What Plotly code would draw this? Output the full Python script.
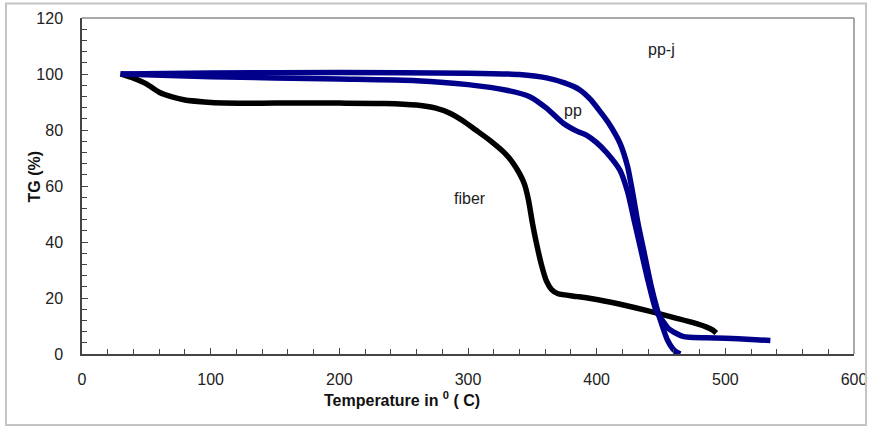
import plotly.graph_objects as go

# ---- data ----
fiber_T = [30, 40, 50, 60, 70, 80, 95, 110, 150, 200, 235, 260, 275, 286, 296, 306,
           317, 328, 335, 340, 344, 347, 350, 353, 357, 361, 365, 370, 385, 402,
           420, 440, 460, 475, 485, 490, 493]
fiber_TG = [100, 98.5, 96.5, 93.5, 91.8, 90.7, 90, 89.6, 89.6, 89.6, 89.5, 88.9, 87.8,
            86, 83.3, 80, 76.3, 72, 68.2, 64.5, 60.5, 55, 47, 40, 32, 26, 23,
            21.5, 20.5, 19.3, 17.6, 15.4, 13, 11.2, 9.7, 8.6, 7.5]

ppj_T = [30, 100, 200, 300, 340, 361, 375, 387, 395, 402, 410, 418, 424, 428, 432,
         437, 442, 447, 451, 455, 459, 462, 465]
ppj_TG = [100, 100.4, 100.5, 100.3, 99.8, 98.6, 96.8, 94.3, 91, 87, 82, 75.4, 67,
          57.5, 47, 36, 25, 16, 10, 5, 2, 0.7, 0]

pp_T = [30, 100, 200, 260, 300, 330, 348, 361, 374, 385, 392, 400, 408, 418, 424,
        429, 434, 440, 446, 451, 456, 462, 467, 472, 485, 500, 520, 535]
pp_TG = [100, 99, 98.2, 97.6, 96.2, 94.2, 91.9, 87.8, 82.4, 79.5, 78.2, 75.5, 71.8,
         65.7, 58, 48, 38, 26, 15.7, 12, 9, 7.3, 6.3, 6, 5.8, 5.6, 5.2, 4.8]

series_labels = ["fiber", "pp", "pp-j"]
label_pos = {"fiber": (301.6, 55.4), "pp": (381.5, 87.1), "pp-j": (450.5, 108.6)}

x_title = "Temperature in <sup>0</sup> ( C)"
y_title = "TG (%)"

BLUE = "#00008B"

fig = go.Figure()
fig.add_trace(go.Scatter(x=fiber_T, y=fiber_TG, mode="lines", name="fiber",
                         line=dict(color="#000000", width=5.5, shape="spline", smoothing=0.6)))
fig.add_trace(go.Scatter(x=pp_T, y=pp_TG, mode="lines", name="pp",
                         line=dict(color=BLUE, width=5.5, shape="spline", smoothing=0.6)))
fig.add_trace(go.Scatter(x=ppj_T, y=ppj_TG, mode="lines", name="pp-j",
                         line=dict(color=BLUE, width=5.5, shape="spline", smoothing=0.6)))

for name in series_labels:
    x, y = label_pos[name]
    fig.add_annotation(x=x, y=y, xref="x", yref="y", text=name, showarrow=False,
                       font=dict(family="Liberation Sans, Arial", size=16, color="#222"))

# plot area on screen: x 82..854, y 18..354
fig.add_annotation(x=(322 - 82) / 772, y=(354 - 411) / 336, xref="paper", yref="paper",
                   text="<b>" + x_title + "</b>", showarrow=False,
                   font=dict(family="Liberation Sans, Arial", size=16, color="#111"))
fig.add_annotation(x=(23 - 82) / 772, y=(354 - 177) / 336, xref="paper", yref="paper",
                   text="<b>" + y_title + "</b>", showarrow=False, textangle=-90,
                   font=dict(family="Liberation Sans, Arial", size=16, color="#111"))

# plot frame (top/right) and outer border
fig.add_shape(type="line", xref="paper", yref="paper", x0=0, x1=1, y0=1, y1=1,
              line=dict(color="#8c8c8c", width=1.5))
fig.add_shape(type="line", xref="paper", yref="paper", x0=1, x1=1, y0=0, y1=1,
              line=dict(color="#8c8c8c", width=1.5))
fig.add_shape(type="rect", xref="paper", yref="paper",
              x0=(6 - 82) / 772, x1=(866 - 82) / 772,
              y0=(354 - 425) / 336, y1=(354 - 3.5) / 336,
              line=dict(color="#c4c4c4", width=2))

axis_font = dict(family="Liberation Sans, Arial", size=16, color="#222")
fig.update_xaxes(range=[0, 600], dtick=100, tick0=0, showgrid=False, zeroline=False,
                 showline=True, linecolor="#444", linewidth=1.5, automargin=False,
                 ticks="inside", ticklen=6, tickcolor="#444", tickwidth=1,
                 minor=dict(dtick=20, ticks="inside", ticklen=5, tickcolor="#444", showgrid=False),
                 tickfont=axis_font, ticklabelstandoff=10)
fig.update_yaxes(range=[0, 120], dtick=20, tick0=0, showgrid=False, zeroline=False,
                 showline=True, linecolor="#444", linewidth=1.5, automargin=False,
                 ticks="inside", ticklen=6, tickcolor="#444", tickwidth=1,
                 minor=dict(dtick=4, ticks="inside", ticklen=5, tickcolor="#444", showgrid=False),
                 tickfont=axis_font, ticklabelstandoff=14)

fig.update_layout(width=870, height=428, margin=dict(l=82, r=16, t=18, b=74, autoexpand=False),
                  paper_bgcolor="white", plot_bgcolor="white", showlegend=False)

fig.write_html("out.html", config={"displayModeBar": False},
               post_script="document.body.style.margin='0';document.body.style.overflow='hidden';")
